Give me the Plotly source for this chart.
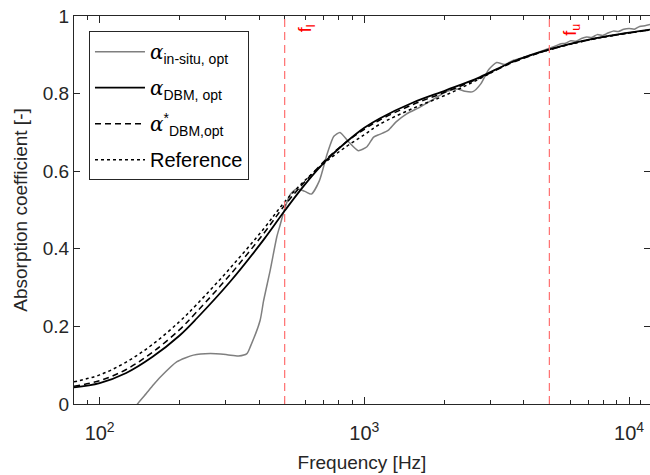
import math
import plotly.graph_objects as go

# ---- data ----
freq_model = [80, 100, 126, 158, 200, 233, 311, 416, 500, 600, 721, 857, 1000,
              1143, 1528, 2042, 2723, 3631, 5000, 7500, 12000]
alpha_dbm = [0.043, 0.054, 0.080, 0.121, 0.176, 0.221, 0.315, 0.423, 0.498, 0.568,
             0.629, 0.676, 0.712, 0.736, 0.777, 0.809, 0.842, 0.882, 0.914, 0.943, 0.965]
alpha_dbm_star = [0.046, 0.060, 0.089, 0.133, 0.191, 0.238, 0.333, 0.439, 0.512, 0.575,
                  0.632, 0.676, 0.708, 0.732, 0.772, 0.805, 0.840, 0.880, 0.913, 0.942, 0.964]
alpha_ref = [0.057, 0.075, 0.108, 0.153, 0.212, 0.257, 0.350, 0.451, 0.521, 0.578,
             0.626, 0.664, 0.694, 0.721, 0.762, 0.797, 0.838, 0.882, 0.913, 0.942, 0.964]

freq_insitu = [130, 139, 150, 160, 170, 196, 226, 262, 303, 335, 360, 371, 404, 416,
               441, 467, 481, 501, 525, 556, 596, 631, 676, 724, 767, 809, 871, 948,
               1023, 1084, 1143, 1230, 1318, 1445, 1622, 1820, 2042, 2239, 2399, 2570,
               2754, 2951, 3162, 3388, 3631, 3981, 4467, 5000, 5248, 5495, 5754, 6026,
               6310, 6607, 6918, 7244, 7586, 7943, 8318, 8710, 9120, 9550, 10000, 10471,
               10965, 11482, 12023]
alpha_insitu = [-0.04, 0.0, 0.027, 0.05, 0.070, 0.109, 0.126, 0.130, 0.127, 0.124, 0.130,
                0.148, 0.216, 0.265, 0.345, 0.431, 0.462, 0.505, 0.540, 0.555, 0.548,
                0.541, 0.575, 0.645, 0.690, 0.700, 0.676, 0.653, 0.663, 0.688, 0.695,
                0.705, 0.727, 0.748, 0.765, 0.785, 0.805, 0.812, 0.806, 0.805, 0.825,
                0.862, 0.880, 0.875, 0.885, 0.893, 0.905, 0.917, 0.922, 0.928, 0.930,
                0.936, 0.935, 0.942, 0.946, 0.945, 0.952, 0.950, 0.956, 0.961, 0.960,
                0.966, 0.968, 0.966, 0.973, 0.975, 0.978]

f_lower = 500
f_upper = 5000

x_range = [80, 12000]
y_ticks = [0, 0.2, 0.4, 0.6, 0.8, 1]
y_ticktext = ["0", "0.2", "0.4", "0.6", "0.8", "1"]
x_major = [100, 1000, 10000]
x_major_text = ["10<sup>2</sup>", "10<sup>3</sup>", "10<sup>4</sup>"]
x_minor = [80, 90] + [m * 100 for m in range(2, 10)] + [m * 1000 for m in range(2, 10)] + [11000, 12000]

FONT = "Liberation Sans, Arial, Helvetica, sans-serif"
AX = "#262626"
GREEK = "<span style=\"font-family:'DejaVu Serif'\"><i>α</i></span>"

fig = go.Figure()
fig.add_trace(go.Scatter(x=freq_insitu, y=alpha_insitu, mode="lines",
                         line=dict(color="#7f7f7f", width=1.5, shape="spline", smoothing=0.6),
                         name=GREEK + "<sub>in-situ, opt</sub>", legendgroup="a"))
fig.add_trace(go.Scatter(x=freq_model, y=alpha_dbm, mode="lines",
                         line=dict(color="#000000", width=1.8, shape="spline"),
                         name=GREEK + "<sub>DBM, opt</sub>", legendgroup="b"))
fig.add_trace(go.Scatter(x=freq_model, y=alpha_dbm_star, mode="lines",
                         line=dict(color="#000000", width=1.5, dash="6px,4px", shape="spline"),
                         name=GREEK + "<sup>*</sup><sub>DBM,opt</sub>", legendgroup="c"))
fig.add_trace(go.Scatter(x=freq_model, y=alpha_ref, mode="lines",
                         line=dict(color="#000000", width=1.5, dash="dot", shape="spline"),
                         name="Reference", legendgroup="d"))

for fv in (f_lower, f_upper):
    fig.add_shape(type="line", xref="x", yref="paper", x0=fv, x1=fv, y0=0, y1=1,
                  line=dict(color="#ff6f6f", width=1.2, dash="8px,5px"), layer="above")

for fv, lab in ((f_lower, "f<sub>l</sub>"), (f_upper, "f<sub>u</sub>")):
    fig.add_annotation(x=math.log10(fv), y=1, xref="x", yref="y", text=lab,
                       textangle=-90, showarrow=False, xanchor="left", yanchor="top",
                       xshift=8, yshift=-6,
                       font=dict(family=FONT, size=18, color="#ff0000"))

fig.update_xaxes(type="log", range=[math.log10(x_range[0]), math.log10(x_range[1])],
                 automargin=False,
                 tickmode="array", tickvals=x_major, ticktext=x_major_text,
                 ticks="inside", ticklen=7, tickwidth=1, tickcolor=AX,
                 ticklabelstandoff=11, ticklabeloverflow="allow",
                 minor=dict(tickmode="array", tickvals=x_minor, ticks="inside",
                            ticklen=4, tickwidth=1, tickcolor=AX),
                 showline=True, linecolor=AX, linewidth=1, mirror="ticks",
                 showgrid=False, zeroline=False,
                 tickfont=dict(family=FONT, size=20, color=AX),
                 title=dict(text="Frequency [Hz]", font=dict(family=FONT, size=19, color=AX),
                            standoff=12))
fig.update_yaxes(range=[0, 1], automargin=False,
                 tickmode="array", tickvals=y_ticks, ticktext=y_ticktext,
                 ticks="inside", ticklen=6, tickwidth=1, tickcolor=AX,
                 ticklabeloverflow="allow",
                 showline=True, linecolor=AX, linewidth=1, mirror="ticks",
                 showgrid=False, zeroline=False,
                 tickfont=dict(family=FONT, size=19, color=AX),
                 title=dict(text="Absorption coefficient [-]",
                            font=dict(family=FONT, size=19, color=AX), standoff=10))

fig.update_layout(width=650, height=475, paper_bgcolor="white", plot_bgcolor="white",
                  margin=dict(l=74, r=0, t=16, b=71),
                  legend=dict(x=0.026, y=0.961, xanchor="left", yanchor="top",
                              bgcolor="white", bordercolor=AX, borderwidth=1,
                              font=dict(family=FONT, size=20, color="#000000"),
                              traceorder="grouped", tracegroupgap=7, itemwidth=50),
                  showlegend=True)

# remove the default page margin so the figure sits at the window's top-left corner
fig.write_html("out.html", config={"displayModeBar": False},
               post_script="document.body.style.margin='0';")
